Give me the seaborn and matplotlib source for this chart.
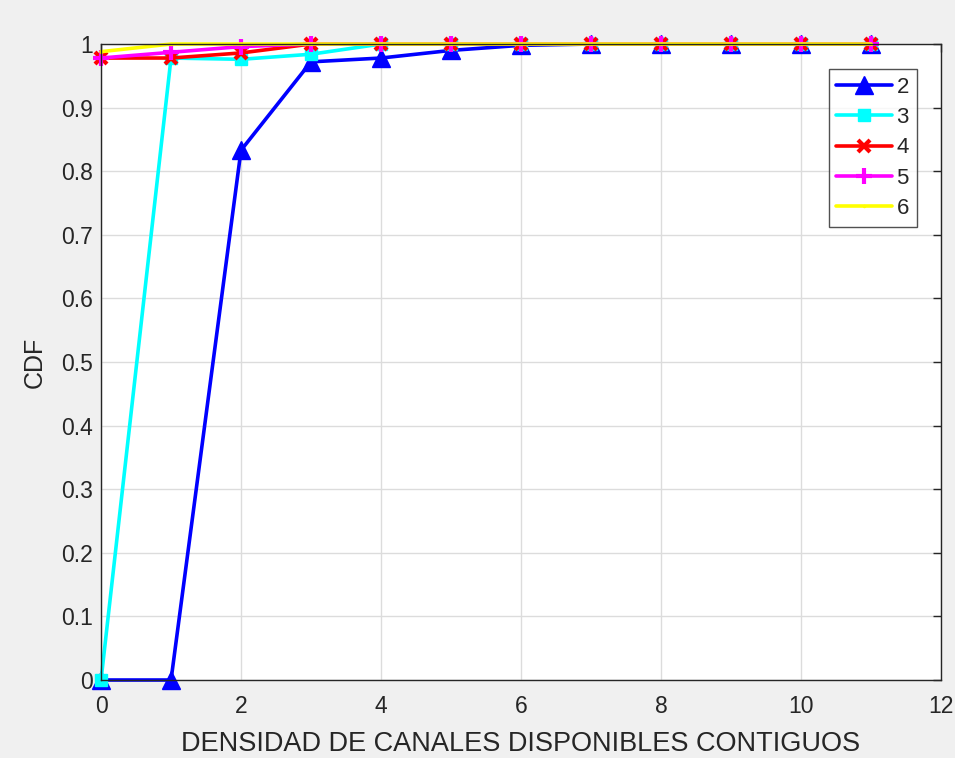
import numpy as np
import pandas as pd
import seaborn as sns
import matplotlib.pyplot as plt

x = [0, 1, 2, 3, 4, 5, 6, 7, 8, 9, 10, 11]
cdf_2 = [0.0, 0.0, 0.833, 0.972, 0.978, 0.990, 0.998, 1.0, 1.0, 1.0, 1.0, 1.0]
cdf_3 = [0.0, 0.978, 0.976, 0.984, 1.0, 1.0, 1.0, 1.0, 1.0, 1.0, 1.0, 1.0]
cdf_4 = [0.978, 0.978, 0.986, 1.0, 1.0, 1.0, 1.0, 1.0, 1.0, 1.0, 1.0, 1.0]
cdf_5 = [0.978, 0.987, 0.996, 1.0, 1.0, 1.0, 1.0, 1.0, 1.0, 1.0, 1.0, 1.0]
cdf_6 = [0.988, 1.0, 1.0, 1.0, 1.0, 1.0, 1.0, 1.0, 1.0, 1.0, 1.0, 1.0]

series = ["2", "3", "4", "5", "6"]
values = [cdf_2, cdf_3, cdf_4, cdf_5, cdf_6]
colors = ["#0000ff", "#00ffff", "#ff0000", "#ff00ff", "#ffff00"]
markers = ["^", "s", "x", "+", "."]
msizes = [13, 9, 9, 11, 3]
medges = [1, 1, 3, 3, 1]

df = pd.DataFrame({
    "x": x * len(series),
    "cdf": sum(values, []),
    "serie": np.repeat(series, len(x)),
})

sns.set_theme(style="white")
plt.rcParams["font.family"] = ["Liberation Sans", "DejaVu Sans"]

fig = plt.figure(figsize=(9.55, 7.58), dpi=100, facecolor="#f0f0f0")
ax = fig.add_axes([0.1058, 0.1029, 0.8795, 0.839])

for name, col, mk, ms, mew in zip(series, colors, markers, msizes, medges):
    sub = df[df["serie"] == name]
    sns.lineplot(data=sub, x="x", y="cdf", color=col, marker=mk, markersize=ms,
                 markeredgecolor=col, markeredgewidth=mew, linewidth=2.6,
                 label=name, ax=ax, clip_on=False)

ax.set_xlim(0, 12)
ax.set_ylim(0, 1)
ax.set_xticks(range(0, 13, 2))
ax.set_yticks(np.arange(0, 1.01, 0.1))
ax.set_yticklabels(["0", "0.1", "0.2", "0.3", "0.4", "0.5", "0.6", "0.7", "0.8", "0.9", "1"])
ax.grid(True, color="#dcdcdc", linewidth=1)
ax.set_axisbelow(True)
for s in ax.spines.values():
    s.set_color("#262626")
    s.set_linewidth(1)
ax.tick_params(direction="in", length=6, width=1, colors="#262626",
               labelsize=16.5, top=True, right=True, pad=6)
ax.tick_params(axis="x", pad=11)

ax.set_xlabel("DENSIDAD DE CANALES DISPONIBLES CONTIGUOS", fontsize=19.5,
              color="#262626", labelpad=9)
ax.set_ylabel("CDF", fontsize=18, color="#262626", labelpad=10)

leg = ax.legend(loc="upper right", bbox_to_anchor=(0.971, 0.961), borderaxespad=0,
                fontsize=16, frameon=True, fancybox=False, edgecolor="#262626",
                handlelength=2.5, borderpad=0.35, labelspacing=0.42, handletextpad=0.2)
leg.get_frame().set_linewidth(1)

fig.savefig("out.png", dpi=100, facecolor=fig.get_facecolor())
